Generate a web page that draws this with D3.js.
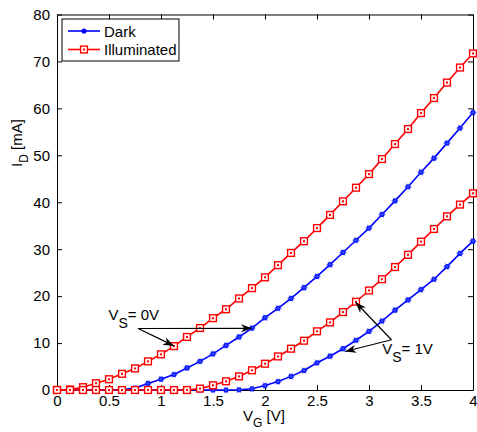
<!DOCTYPE html>
<html><head><meta charset="utf-8">
<script src="https://cdn.jsdelivr.net/npm/d3@7"></script>
<style>body{margin:0;background:#fff}svg{display:block}text{font-family:"Liberation Sans",Arial,sans-serif;fill:#000}</style>
</head><body><svg id="c" width="477" height="432"></svg>
<script>
const vg = [0,0.125,0.25,0.375,0.5,0.625,0.75,0.875,1,1.125,1.25,1.375,1.5,1.625,1.75,1.875,2,2.125,2.25,2.375,2.5,2.625,2.75,2.875,3,3.125,3.25,3.375,3.5,3.625,3.75,3.875,4];
const darkVs0 = [0,0,0,0,0,0.05,0.4,1.4,2.3,3.3,4.7,6.1,7.7,9.5,11.3,13.2,15.4,17.4,19.5,21.8,24.2,26.7,29.3,31.9,34.5,37.4,40.3,43.3,46.4,49.4,52.6,55.8,59.1];
const illumVs0 = [0,0.1,0.6,1.45,2.3,3.45,4.6,6.1,7.6,9.35,11.3,13.2,15.3,17.2,19.5,21.7,24.0,26.6,29.2,31.7,34.5,37.3,40.2,43.1,46.0,49.2,52.4,55.6,59.0,62.2,65.5,68.7,71.7];
const darkVs1 = [0,0,0,0,0,0,0,0,0,0,0,0,0,0,0.05,0.25,0.95,1.8,2.9,4.15,5.8,7.2,8.8,10.6,12.5,14.7,17.0,19.2,21.4,23.6,26.3,29.1,31.7];
const illumVs1 = [0,0,0,0,0,0,0,0,0,0,0,0.3,1.0,1.85,2.9,4.2,5.6,7.15,8.8,10.5,12.5,14.4,16.6,18.8,21.2,23.6,26.2,28.8,31.6,34.3,37.0,39.5,41.9];
const xTicks = [0,0.5,1,1.5,2,2.5,3,3.5,4];
const yTicks = [0,10,20,30,40,50,60,70,80];
const legendLabels = ["Dark","Illuminated"];
const annotations = [
  {label:"= 0V", x:0.495, y:15.0, from:[0.78,13.1], to:[[1.875,13.15],[1.125,9.4]]},
  {label:"= 1V", x:3.127, y:7.7, from:[3.216,10.7], to:[[2.87,18.7],[2.77,8.2]]}
];

const svg = d3.select("#c");
const X0=57, X1=473, Y0=390, Y1=14.5;
const x = d3.scaleLinear().domain([0,4]).range([X0,X1]);
const y = d3.scaleLinear().domain([0,80]).range([Y0,Y1]);
const BLUE="#0000ff", RED="#ff0000";

// axes
const ax = svg.append("g");
const axBottom = d3.axisBottom(x).tickValues(xTicks).tickFormat(d3.format("~g")).tickSizeInner(-5).tickSizeOuter(0).tickPadding(5);
const axLeft = d3.axisLeft(y).tickValues(yTicks).tickSizeInner(-5).tickSizeOuter(0).tickPadding(7);
const axTop = d3.axisTop(x).tickValues(xTicks).tickFormat("").tickSizeInner(-5).tickSizeOuter(0);
const axRight = d3.axisRight(y).tickValues(yTicks).tickFormat("").tickSizeInner(-5).tickSizeOuter(0);
ax.append("g").attr("transform",`translate(0,${Y0})`).call(axBottom);
ax.append("g").attr("transform",`translate(${X0},0)`).call(axLeft);
ax.append("g").attr("transform",`translate(0,${Y1})`).call(axTop);
ax.append("g").attr("transform",`translate(${X1},0)`).call(axRight);
ax.selectAll(".domain").attr("stroke","#000");
ax.selectAll(".tick line").attr("stroke","#000");
ax.selectAll(".tick text").attr("font-size",15).attr("font-family","Liberation Sans, Arial, sans-serif");

const line = d3.line().x((d,i)=>x(vg[i])).y(d=>y(d));

function blueSeries(vals){
  svg.append("path").datum(vals).attr("d",line).attr("fill","none").attr("stroke",BLUE).attr("stroke-width",1.6);
  const g = svg.append("g");
  vals.forEach((v,i)=>{
    const cx=x(vg[i]), cy=y(v);
    g.append("circle").attr("cx",cx).attr("cy",cy).attr("r",2.6).attr("fill",BLUE);
    [0,60,120].forEach(a=>{
      const r=3.8, dx=r*Math.cos(a*Math.PI/180), dy=r*Math.sin(a*Math.PI/180);
      g.append("line").attr("x1",cx-dx).attr("y1",cy-dy).attr("x2",cx+dx).attr("y2",cy+dy)
        .attr("stroke","#4060ff").attr("stroke-width",0.9).attr("opacity",0.7);
    });
  });
}
function redSeries(vals){
  svg.append("path").datum(vals).attr("d",line).attr("fill","none").attr("stroke",RED).attr("stroke-width",1.6);
  const g = svg.append("g");
  vals.forEach((v,i)=>{
    const cx=x(vg[i]), cy=y(v);
    g.append("rect").attr("x",cx-3.4).attr("y",cy-3.4).attr("width",6.8).attr("height",6.8)
      .attr("fill","#fff").attr("stroke",RED).attr("stroke-width",1.4);
    g.append("rect").attr("x",cx-1).attr("y",cy-1).attr("width",2).attr("height",2).attr("fill",RED);
  });
}
blueSeries(darkVs1);
blueSeries(darkVs0);
redSeries(illumVs0);
redSeries(illumVs1);

// annotations with arrows
function arrow(x1,y1,x2,y2){
  svg.append("line").attr("x1",x1).attr("y1",y1).attr("x2",x2).attr("y2",y2).attr("stroke","#000").attr("stroke-width",1.2);
  const ang=Math.atan2(y2-y1,x2-x1), L=11, W=4;
  const bx=x2-L*Math.cos(ang), by=y2-L*Math.sin(ang);
  const px=-Math.sin(ang), py=Math.cos(ang);
  const mx=x2-0.7*L*Math.cos(ang), my=y2-0.7*L*Math.sin(ang);
  svg.append("path").attr("d",`M${x2},${y2}L${bx+W*px},${by+W*py}L${mx},${my}L${bx-W*px},${by-W*py}Z`).attr("fill","#000");
}
annotations.forEach(a=>{
  const t = svg.append("text").attr("x",x(a.x)).attr("y",y(a.y)).attr("font-size",15);
  t.append("tspan").text("V");
  t.append("tspan").attr("dy",8).attr("font-size",14).text("S");
  t.append("tspan").attr("dy",-8).text(a.label);
  a.to.forEach(p=>arrow(x(a.from[0]),y(a.from[1]),x(p[0]),y(p[1])));
});

// axis labels
const xl = svg.append("text").attr("x",264).attr("y",421).attr("text-anchor","middle").attr("font-size",15);
xl.append("tspan").text("V");
xl.append("tspan").attr("dy",6).attr("font-size",12).text("G");
xl.append("tspan").attr("dy",-6).text(" [V]");
const yl = svg.append("text").attr("transform","translate(22,143) rotate(-90)").attr("text-anchor","middle").attr("font-size",15);
yl.append("tspan").text("I");
yl.append("tspan").attr("dy",6).attr("font-size",12).text("D");
yl.append("tspan").attr("dy",-6).text(" [mA]");

// legend
const lg = svg.append("g");
lg.append("rect").attr("x",62).attr("y",19).attr("width",117).attr("height",42).attr("fill","#fff").attr("stroke","#000").attr("stroke-width",1);
legendLabels.forEach((lab,i)=>{
  const ly = 31 + i*18.5;
  lg.append("line").attr("x1",68).attr("x2",100).attr("y1",ly).attr("y2",ly).attr("stroke",i?RED:BLUE).attr("stroke-width",1.6);
  if(i===0){
    lg.append("circle").attr("cx",84).attr("cy",ly).attr("r",2.6).attr("fill",BLUE);
  } else {
    lg.append("rect").attr("x",84-3.4).attr("y",ly-3.4).attr("width",6.8).attr("height",6.8).attr("fill","#fff").attr("stroke",RED).attr("stroke-width",1.4);
    lg.append("rect").attr("x",83).attr("y",ly-1).attr("width",2).attr("height",2).attr("fill",RED);
  }
  lg.append("text").attr("x",104).attr("y",ly+5.5).attr("font-size",15).text(lab);
});
</script></body></html>
